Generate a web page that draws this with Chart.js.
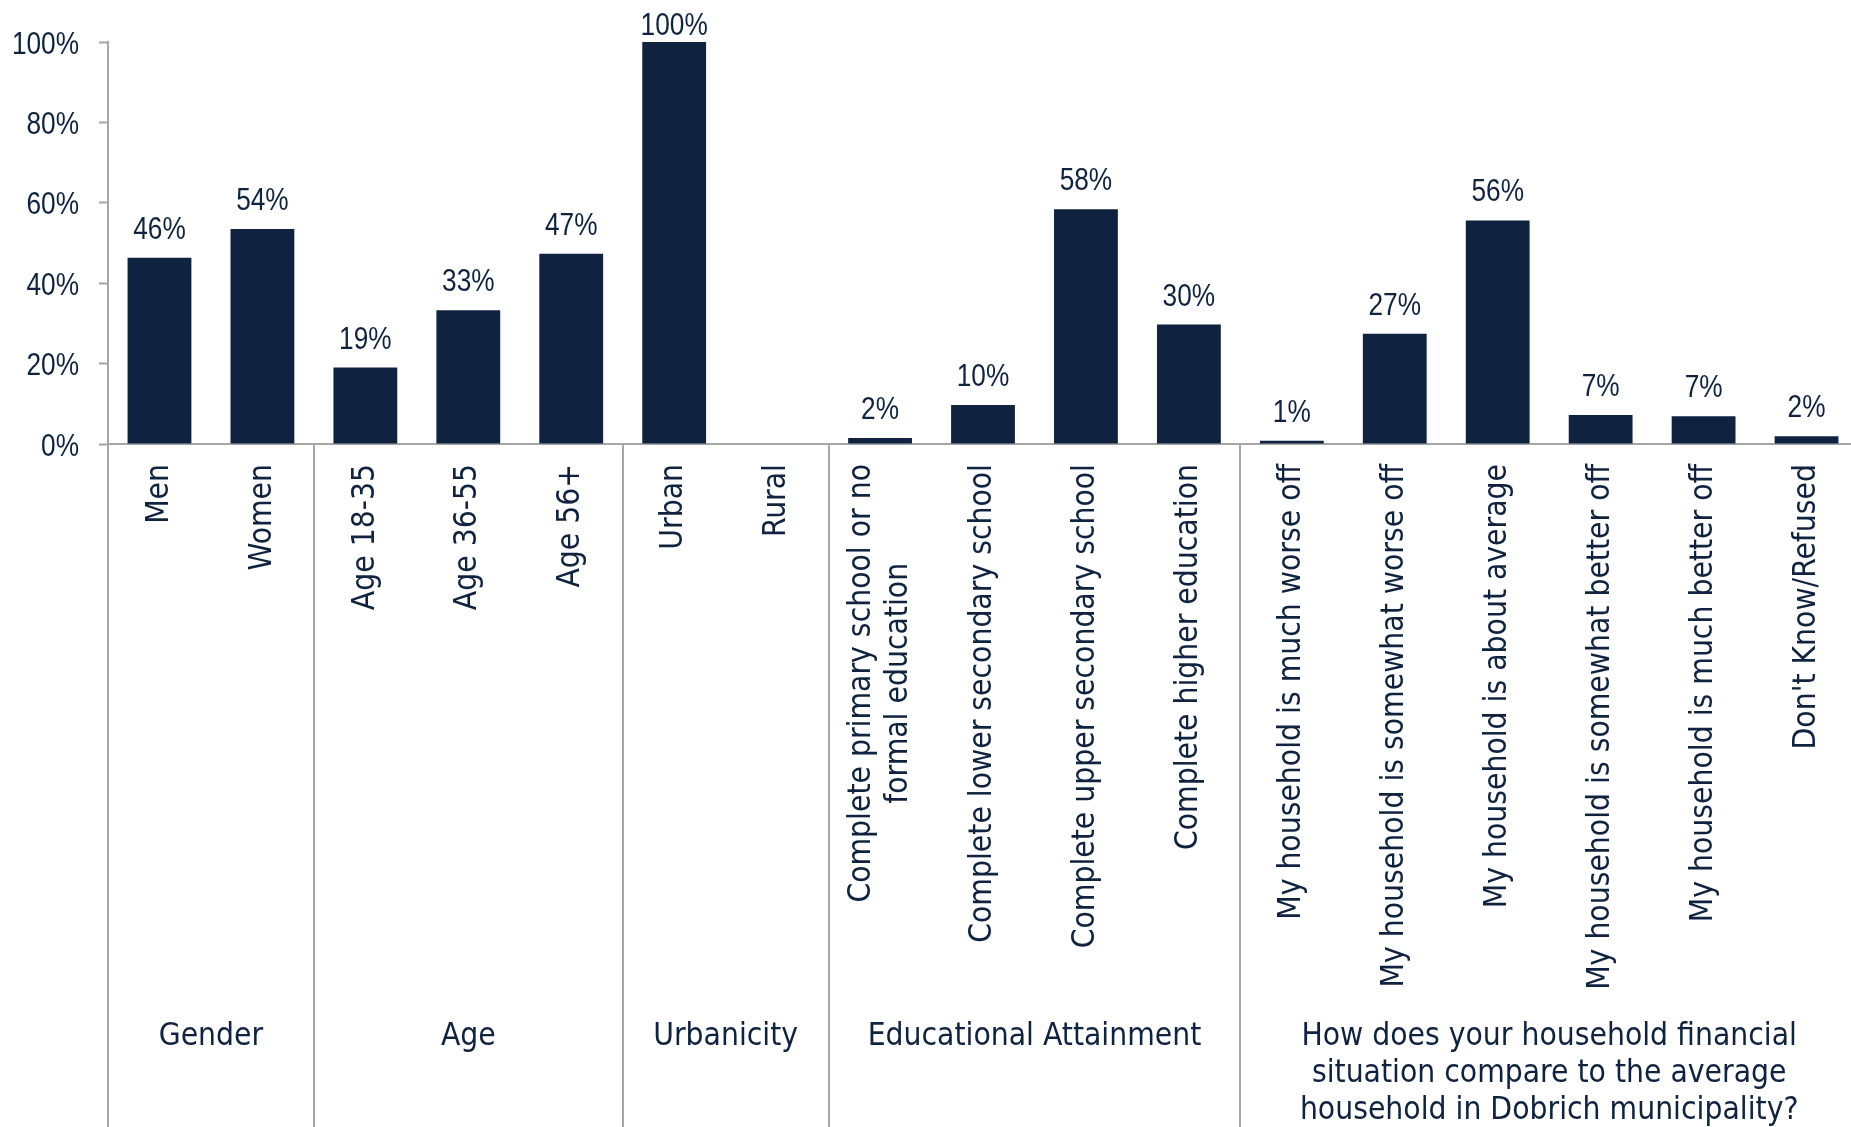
<!DOCTYPE html>
<html lang="en">
<head>
<meta charset="utf-8">
<title>Household profile</title>
<script src="https://cdn.jsdelivr.net/npm/chart.js@4.4.1/dist/chart.umd.min.js"></script>
<style>
    html, body { margin: 0; padding: 0; background: #fff; overflow: hidden; }
    #chart-wrap { width: 1858px; height: 1127px; }
</style>
</head>
<body>
<div id="chart-wrap"><canvas id="profileChart" width="1858" height="1127"></canvas></div>
<script>
// --- DATA ---
const categories = [
    'Men', 'Women',
    'Age 18-35', 'Age 36-55', 'Age 56+',
    'Urban', 'Rural',
    ['Complete primary school or no', 'formal education'], 'Complete lower secondary school',
    'Complete upper secondary school', 'Complete higher education',
    'My household is much worse off', 'My household is somewhat worse off', 'My household is about average',
    'My household is somewhat better off', 'My household is much better off', "Don't Know/Refused"
];
const shares = [46.3, 53.5, 19.0, 33.3, 47.3, 100, 0, 1.5, 9.7, 58.4, 29.7, 0.8, 27.4, 55.6, 7.2, 6.9, 1.9];
const groupNames = [
    ['Gender'], ['Age'], ['Urbanicity'], ['Educational Attainment'],
    ['How does your household financial', 'situation compare to the average', 'household in Dobrich municipality?']
];
const groupSizes = [2, 3, 2, 4, 6];
const yTicks = [0, 20, 40, 60, 80, 100];

// --- STYLE ---
const NAVY = '#0f2340';
const AXIS_GREY = '#a6a6a6';
const TEXT_FONT = "'DejaVu Sans Condensed', 'DejaVu Sans', sans-serif";
const NUM_FONT = "'Liberation Sans', Arial, sans-serif";
const NARROW = 0.82; // squeeze digits like the original narrow face

function narrowText(ctx, text, x, y) {
    ctx.save();
    ctx.translate(x, y);
    ctx.scale(NARROW, 1);
    ctx.fillText(text, 0, 0);
    ctx.restore();
}

// --- LABELS, GROUP AXIS PLUGIN ---
const groupAxisPlugin = {
    id: 'groupAxis',
    afterDraw(chart) {
        const { ctx, chartArea, scales: { x, y } } = chart;
        const bottom = chart.height;
        const edge = i => i <= 0 ? chartArea.left
            : i >= categories.length ? chartArea.right
            : (x.getPixelForValue(i - 1) + x.getPixelForValue(i)) / 2;

        ctx.save();
        // separators below the axis
        ctx.strokeStyle = AXIS_GREY;
        ctx.lineWidth = 2;
        let start = 0;
        const bounds = [0];
        groupSizes.forEach(n => { start += n; bounds.push(start); });
        bounds.slice(0, -1).forEach(b => {
            const px = Math.round(edge(b));
            ctx.beginPath();
            ctx.moveTo(px, chartArea.bottom);
            ctx.lineTo(px, bottom);
            ctx.stroke();
        });

        ctx.fillStyle = NAVY;

        // category labels, rotated, lines centred on each other
        ctx.font = `31.5px ${TEXT_FONT}`;
        ctx.textAlign = 'right';
        ctx.textBaseline = 'middle';
        const lh = 37;
        categories.forEach((label, i) => {
            const lines = Array.isArray(label) ? label : [label];
            const widths = lines.map(l => ctx.measureText(l).width);
            const maxW = Math.max(...widths);
            ctx.save();
            ctx.translate(x.getPixelForValue(i), chartArea.bottom + 20);
            ctx.rotate(-Math.PI / 2);
            lines.forEach((line, j) => {
                ctx.fillText(line, -(maxW - widths[j]) / 2, (j - (lines.length - 1) / 2) * lh);
            });
            ctx.restore();
        });

        // group titles
        ctx.textAlign = 'center';
        groupNames.forEach((lines, g) => {
            const cx = (edge(bounds[g]) + edge(bounds[g + 1])) / 2;
            lines.forEach((line, i) => ctx.fillText(line, cx, 1037 + i * lh));
        });

        // y tick labels
        ctx.font = `32px ${NUM_FONT}`;
        ctx.textBaseline = 'alphabetic';
        ctx.textAlign = 'right';
        yTicks.forEach(v => narrowText(ctx, v + '%', 79, y.getPixelForValue(v) + 11.5));

        // value labels over the bars
        ctx.textAlign = 'center';
        chart.getDatasetMeta(0).data.forEach((bar, i) => {
            if (!shares[i]) return;
            const ty = Math.max(bar.y - 19, chartArea.top - 7);
            narrowText(ctx, Math.round(shares[i]) + '%', bar.x, ty);
        });
        ctx.restore();
    }
};

// --- CHART ---
document.addEventListener('DOMContentLoaded', function () {
    const ctx = document.getElementById('profileChart');
    new Chart(ctx, {
        type: 'bar',
        data: {
            labels: categories,
            datasets: [{
                data: shares,
                backgroundColor: NAVY,
                barPercentage: 0.62,
                categoryPercentage: 1
            }]
        },
        options: {
            responsive: false,
            animation: false,
            layout: { padding: { top: 42, left: 0, right: 0, bottom: 0 } },
            plugins: { legend: { display: false }, tooltip: { enabled: false } },
            scales: {
                x: {
                    grid: { display: false, drawTicks: false },
                    border: { display: true, color: AXIS_GREY, width: 2 },
                    ticks: { display: false },
                    afterFit(s) { s.height = 683; s.paddingLeft = 0; s.paddingRight = 0; }
                },
                y: {
                    min: 0, max: 100,
                    afterBuildTicks(s) { s.ticks = yTicks.map(v => ({ value: v })); },
                    grid: { drawOnChartArea: false, drawTicks: true, tickLength: 9, tickColor: AXIS_GREY, tickWidth: 2 },
                    border: { display: true, color: AXIS_GREY, width: 2 },
                    ticks: { display: false },
                    afterFit(s) { s.width = 108; s.paddingTop = 0; s.paddingBottom = 0; }
                }
            }
        },
        plugins: [groupAxisPlugin]
    });
});
</script>
</body>
</html>
